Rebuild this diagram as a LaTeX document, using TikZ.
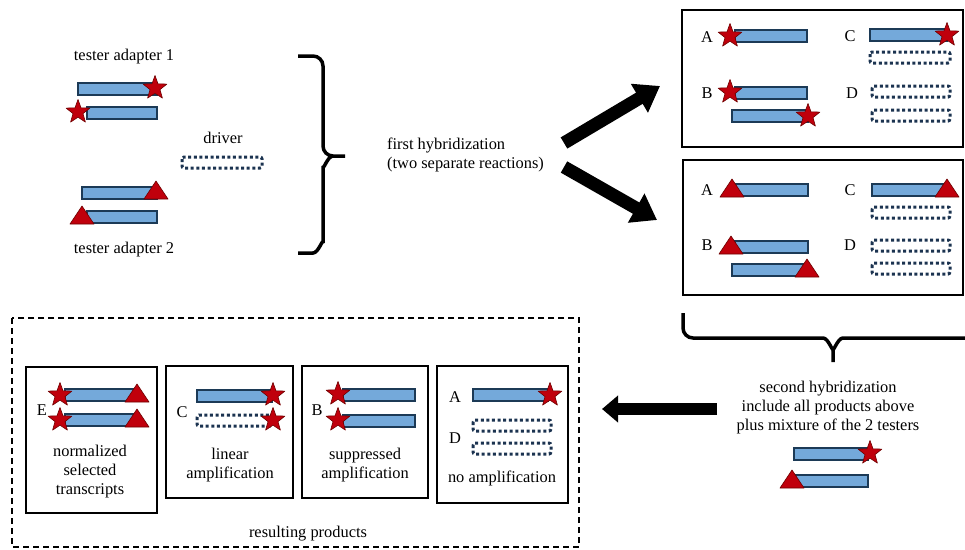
\documentclass[tikz,border=0pt]{standalone}
\usepackage{fontspec}
\setmainfont{Liberation Serif}
\usetikzlibrary{arrows.meta}
\definecolor{barblue}{HTML}{74A9DA}
\definecolor{barnavy}{HTML}{1C3A56}
\definecolor{markred}{HTML}{C0000C}
\definecolor{markdark}{HTML}{6E0000}
\definecolor{dotnavy}{HTML}{1B3350}
% one tester strand, top-left corner and length
\newcommand{\bluebar}[3]{%
  \draw[barline] (#1,#2) rectangle ++(#3,12);}
% driver strand pair, drawn as a dotted outline
\newcommand{\dotstrand}[3]{%
  \draw[dotline] (#1,#2) rectangle ++(#3,11);}
% adapter marks, centred on a strand end
\newcommand{\starmark}[2]{%
  \draw[redmark, shift={(#1,#2)}] (0,-12.5) -- (3,-4.2) -- (11.9,-3.9)
    -- (5,1.6) -- (7.4,10.1) -- (0,5.2) -- (-7.4,10.1) -- (-5,1.6)
    -- (-11.9,-3.9) -- (-3,-4.2) -- cycle;}
\newcommand{\trimark}[2]{%
  \draw[redmark, shift={(#1,#2)}] (-12,7) -- (12,7) -- (0,-11) -- cycle;}

\begin{document}
\begin{tikzpicture}[x=1pt, y=-1pt, font=\fontsize{16.4}{19}\selectfont,
  barline/.style={draw=barnavy, fill=barblue, line width=1.2pt},
  dotline/.style={draw=dotnavy, line width=3pt, dash pattern=on 3pt off 2.6pt,
    rounded corners=2pt},
  redmark/.style={fill=markred, draw=markdark, line width=0.6pt, line join=round},
  panel/.style={draw, line width=2pt},
  brace/.style={draw, line width=3.5pt},
  fatarrow/.style={line width=13pt, -{Triangle[length=24pt, width=32pt]}},
  label/.style={inner sep=0pt, align=center}]
  \useasboundingbox (0,0) rectangle (965,549);
  \clip (0,0) rectangle (965,549);

  % testers and driver
  \node[label] (ta1) at (124,57) {tester adapter 1};
  \node[label] (ta2) at (124,250) {tester adapter 2};
  \node[label] (drv) at (223,138) {driver};
  \bluebar{78}{83}{79}   \starmark{155}{88}
  \bluebar{87}{107}{70}  \starmark{78}{112}
  \bluebar{82}{187}{75}  \trimark{156}{192}
  \bluebar{87}{211}{70}  \trimark{82}{217}
  \dotstrand{182}{157}{80}
  \draw[brace] (298,56) -- (313,56) to[out=0, in=90] (323,66) -- (323,146)
    to[out=270, in=180] (333,156) -- (345,156);
  \draw[brace] (333,156) to[out=180, in=270] (323,166) -- (323,243)
    to[out=90, in=0] (313,253) -- (298,253);

  % first hybridization
  \node[label, anchor=west, align=left] (fh) at (387,155)
    {first hybridization\\(two separate reactions)};
  \coordinate (fhup) at (564,143);
  \coordinate (fhdown) at (564,167);
  \coordinate (toppanel) at (660,86);
  \coordinate (lowpanel) at (657,220);
  \draw[fatarrow] (fhup) -- (toppanel);
  \draw[fatarrow] (fhdown) -- (lowpanel);

  % reaction with tester 1
  \node[panel, minimum width=281pt, minimum height=137pt, inner sep=0pt]
    (r1) at (822.5,78.5) {};
  \node[label] (r1a) at (707,37) {A};
  \node[label] (r1c) at (850,36) {C};
  \node[label] (r1b) at (707,93) {B};
  \node[label] (r1d) at (852,93) {D};
  \bluebar{735}{30}{72}  \starmark{730}{36}
  \bluebar{870}{29}{77}  \starmark{947}{35}
  \dotstrand{870}{52}{80}
  \bluebar{735}{87}{72}  \starmark{730}{92}
  \bluebar{732}{110}{76} \starmark{808}{116}
  \dotstrand{872}{86}{78}
  \dotstrand{872}{110}{78}

  % reaction with tester 2
  \node[panel, minimum width=280pt, minimum height=135pt, inner sep=0pt]
    (r2) at (823,227.5) {};
  \node[label] (r2a) at (707,190) {A};
  \node[label] (r2c) at (850,190) {C};
  \node[label] (r2b) at (707,245) {B};
  \node[label] (r2d) at (850,245) {D};
  \bluebar{735}{184}{73} \trimark{732}{190}
  \bluebar{872}{184}{75} \trimark{947}{190}
  \dotstrand{872}{207}{78}
  \bluebar{735}{241}{73} \trimark{731}{247}
  \bluebar{732}{264}{75} \trimark{807}{270}
  \dotstrand{872}{240}{78}
  \dotstrand{872}{263}{78}

  % second hybridization
  \draw[brace] (683,313) -- (683,328) to[out=270, in=180] (693,338) -- (823,338)
    to[out=0, in=270] (833,348) -- (833,362);
  \draw[brace] (833,348) to[out=270, in=180] (843,338) -- (973,338)
    to[out=0, in=270] (983,328) -- (983,313);
  \node[label] (sh) at (828,408) {second hybridization\\include all products above\\
    plus mixture of the 2 testers};
  \bluebar{794}{448}{74} \starmark{870}{453}
  \bluebar{793}{475}{75} \trimark{792}{481}
  \coordinate (shtail) at (717,409);
  \coordinate (results) at (602,409);
  \draw[fatarrow, line width=12pt, -{Triangle[length=16pt, width=26pt]}]
    (shtail) -- (results);

  % resulting products
  \draw[line width=1.4pt, dash pattern=on 6pt off 4pt] (12,318) rectangle (579,547);
  \node[label] (rp) at (308,534) {resulting products};
  \node[panel, minimum width=131pt, minimum height=146pt, inner sep=0pt]
    (pe) at (91.5,440) {};
  \node[panel, minimum width=127pt, minimum height=132pt, inner sep=0pt]
    (pc) at (229.5,432) {};
  \node[panel, minimum width=126pt, minimum height=132pt, inner sep=0pt]
    (pb) at (365,432) {};
  \node[panel, minimum width=131pt, minimum height=137pt, inner sep=0pt]
    (pad) at (502.5,434.5) {};

  \node[label] (pel) at (42,410) {E};
  \bluebar{65}{389}{70}  \starmark{60}{395}  \trimark{137}{395}
  \bluebar{65}{414}{70}  \starmark{60}{420}  \trimark{137}{420}
  \node[label] (pet) at (90,472) {normalized\\selected\\transcripts};

  \node[label] (pcl) at (182,412) {C};
  \bluebar{197}{390}{75} \starmark{273}{395}
  \dotstrand{197}{415}{75} \starmark{273}{420}
  \node[label] (pct) at (230,465) {linear\\amplification};

  \node[label] (pbl) at (317,410) {B};
  \bluebar{343}{389}{72} \starmark{338}{394}
  \bluebar{343}{415}{72} \starmark{338}{420}
  \node[label] (pbt) at (365,465) {suppressed\\amplification};

  \node[label] (pal) at (455,397) {A};
  \node[label] (pdl) at (455,438) {D};
  \bluebar{473}{389}{75} \starmark{550}{395}
  \dotstrand{473}{420}{78}
  \dotstrand{473}{443}{78}
  \node[label] (pnt) at (502,478) {no amplification};
\end{tikzpicture}
\end{document}
